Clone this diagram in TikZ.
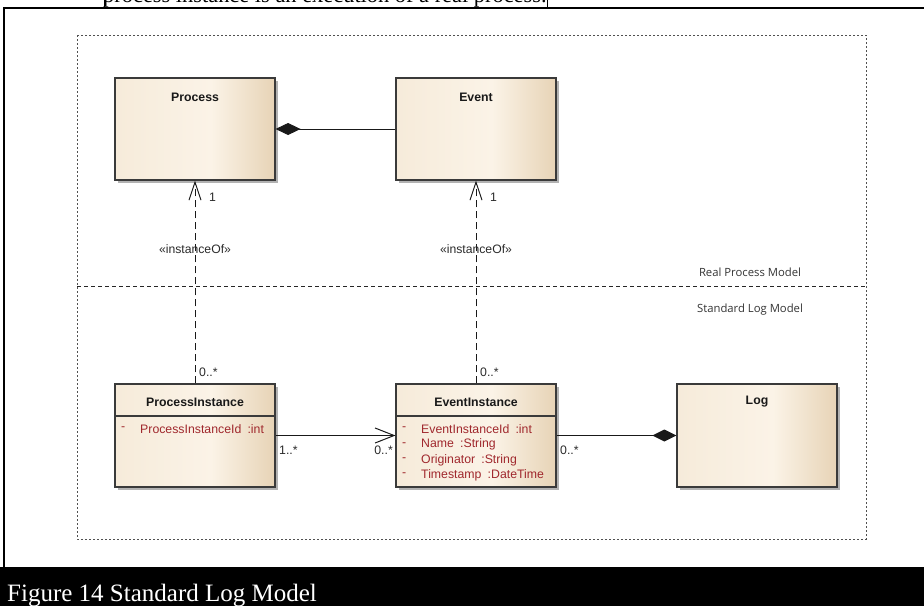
\documentclass[tikz,border=0pt]{standalone}
\usepackage{fontspec}
\setmainfont{Liberation Sans}
\newfontfamily\serifcap{Liberation Serif}
\newfontfamily\regionfont{Open Sans}
\usetikzlibrary{arrows.meta,shadows}

\definecolor{boxL}{HTML}{F6EBDA}
\definecolor{boxM}{HTML}{FBF3E7}
\definecolor{boxR}{HTML}{E7D3B6}
\definecolor{edgegray}{HTML}{3A3A3A}
\definecolor{attrred}{HTML}{A0282D}
\definecolor{labelgray}{HTML}{2A2A2A}
\definecolor{regiongray}{HTML}{505050}

% cream-to-tan fill of the class boxes (25bp = left edge, 75bp = right edge)
\pgfdeclarehorizontalshading{classshade}{100bp}{color(0bp)=(boxL); color(25bp)=(boxL); color(55bp)=(boxM); color(75bp)=(boxR); color(100bp)=(boxR)}

\tikzset{
  classbox/.style={draw=edgegray, line width=1.1pt, shade, shading=classshade,
    minimum width=160pt, minimum height=103pt, inner sep=0pt,
    drop shadow={shadow xshift=3pt, shadow yshift=-3pt, fill=black!30, opacity=1}},
  classname/.style={font=\bfseries\fontsize{12.3}{14}\selectfont, text=black!90, inner sep=0pt},
  attrtext/.style={font=\fontsize{12.3}{14}\selectfont, text=attrred, inner sep=0pt, anchor=west},
  mult/.style={font=\fontsize{12.3}{14}\selectfont, text=labelgray, inner sep=0pt},
  stereo/.style={font=\fontsize{12.2}{14}\selectfont, text=labelgray, inner sep=0pt},
  regionlabel/.style={font=\regionfont\fontsize{11.3}{13}\selectfont, text=black!80, inner sep=0pt},
  assoc/.style={draw=black!90, line width=1pt},
  depend/.style={draw=black!90, line width=1pt, dash pattern=on 7pt off 4pt},
  regionframe/.style={draw=regiongray, line width=0.9pt, dash pattern=on 2pt off 2pt},
  regionsplit/.style={draw=black!85, line width=1pt, dash pattern=on 4pt off 3pt},
}

\begin{document}
\begin{tikzpicture}[x=1pt, y=-1pt]
\useasboundingbox (0,0) rectangle (924,606);
\clip (0,0) rectangle (924,606);

% running text of the page and the frame around the figure
\node[font=\serifcap\fontsize{22.4}{26}\selectfont, anchor=base west, inner sep=0pt] (bodytext) at (103,2) {process instance is an execution of a real process.};
\draw[line width=1pt] (104.5,0) -- (104.5,7);
\draw[line width=1pt] (547,0) -- (547,7);
\draw[line width=2pt] (3,7.5) -- (924,7.5);
\draw[line width=2pt] (4,7.5) -- (4,568);

% package regions
\draw[regionframe] (77,35) rectangle (866,539);
\draw[regionsplit] (77,286) -- (866,286);
\node[regionlabel] (realmodel) at (750,272) {Real Process Model};
\node[regionlabel] (logmodel) at (750,310) {Standard Log Model};

% classes of the real process model
\node[classbox, minimum height=102pt] (process) at (195,129) {};
\node[classname] (processname) at (195,97) {Process};
\node[classbox, minimum height=102pt] (event) at (476,129) {};
\node[classname] (eventname) at (476,97) {Event};

% classes of the log model
\node[classbox] (pinst) at (195,435.5) {};
\node[classname] (pinstname) at (195,402) {ProcessInstance};
\draw[edgegray, line width=1.1pt] (pinst.west |- 0,416) -- (pinst.east |- 0,416);
\node[attrtext] (pinstdash) at (121,429) {-};
\node[attrtext] (pinstattr) at (140,429) {ProcessInstanceId\enspace:int};

\node[classbox] (einst) at (476,435.5) {};
\node[classname] (einstname) at (476,402) {EventInstance};
\draw[edgegray, line width=1.1pt] (einst.west |- 0,416) -- (einst.east |- 0,416);
\node[attrtext] (edash1) at (402,429) {-};
\node[attrtext] (eattr1) at (421,429) {EventInstanceId\enspace:int};
\node[attrtext] (edash2) at (402,444.5) {-};
\node[attrtext] (eattr2) at (421,444.5) {Name\enspace:String};
\node[attrtext] (edash3) at (402,460) {-};
\node[attrtext] (eattr3) at (421,460) {Originator\enspace:String};
\node[attrtext] (edash4) at (402,475) {-};
\node[attrtext] (eattr4) at (421,475) {Timestamp\enspace:DateTime};

\node[classbox] (log) at (757,435.5) {};
\node[classname] (logname) at (757,402) {Log};

% compositions
\draw[assoc, {Diamond[length=25pt,width=12pt]}-] (process.east) -- (event.west);
\draw[assoc, -{Diamond[length=24pt,width=12pt]}] (einst.east) -- (log.west);

% association
\draw[assoc, -{Straight Barb[length=19pt,width=15pt]}] (pinst.east) -- (einst.west);
\node[mult, anchor=west] (m1) at (279,450) {1..*};
\node[mult, anchor=east] (m2) at (393,450) {0..*};
\node[mult, anchor=west] (m3) at (560,450) {0..*};

% instanceOf dependencies
\draw[depend, -{Straight Barb[length=18pt,width=12pt]}] (pinst.north) -- (process.south);
\node[mult, anchor=west] (m4) at (209,197) {1};
\node[stereo] (st1) at (195,249) {«instanceOf»};
\node[mult, anchor=west] (m5) at (199,372) {0..*};

\draw[depend, -{Straight Barb[length=18pt,width=12pt]}] (einst.north) -- (event.south);
\node[mult, anchor=west] (m6) at (490,197) {1};
\node[stereo] (st2) at (476,249) {«instanceOf»};
\node[mult, anchor=west] (m7) at (480,372) {0..*};

% caption bar
\fill[black] (0,567) rectangle (924,606);
\node[font=\serifcap\fontsize{25}{28}\selectfont, text=white, anchor=base west, inner sep=0pt] (caption) at (7,601) {Figure 14 Standard Log Model};
\end{tikzpicture}
\end{document}
